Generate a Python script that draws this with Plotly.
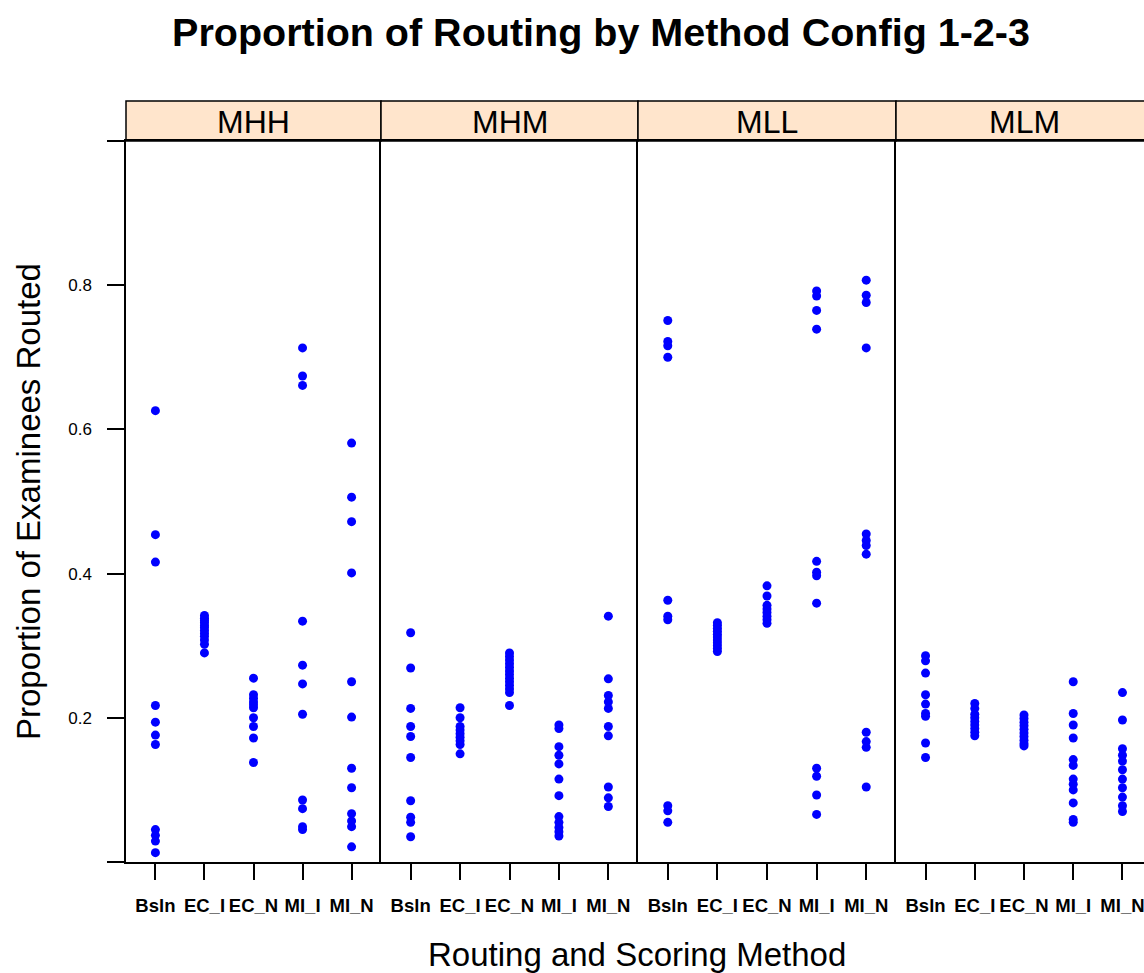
import plotly.graph_objects as go

# Routing / scoring methods shown on every panel
methods = ["Bsln", "EC_I", "EC_N", "MI_I", "MI_N"]
configs = ["MHH", "MHM", "MLL", "MLM"]

# Proportion of examinees routed, one list per method, per configuration
mhh = {
    "Bsln": [0.626, 0.454, 0.416, 0.217, 0.194, 0.176, 0.163, 0.045, 0.037, 0.029, 0.013],
    "EC_I": [0.342, 0.338, 0.335, 0.332, 0.328, 0.325, 0.321, 0.317, 0.313, 0.308, 0.302, 0.290],
    "EC_N": [0.255, 0.232, 0.227, 0.222, 0.218, 0.214, 0.200, 0.188, 0.172, 0.138],
    "MI_I": [0.713, 0.674, 0.661, 0.334, 0.273, 0.247, 0.205, 0.086, 0.074, 0.049, 0.045],
    "MI_N": [0.581, 0.506, 0.472, 0.401, 0.250, 0.201, 0.130, 0.103, 0.067, 0.057, 0.049, 0.021],
}
mhm = {
    "Bsln": [0.318, 0.269, 0.213, 0.188, 0.174, 0.145, 0.085, 0.062, 0.055, 0.035],
    "EC_I": [0.214, 0.200, 0.188, 0.183, 0.178, 0.173, 0.168, 0.163, 0.150],
    "EC_N": [0.290, 0.285, 0.280, 0.275, 0.270, 0.265, 0.260, 0.255, 0.250, 0.245, 0.240, 0.235, 0.217],
    "MI_I": [0.190, 0.185, 0.160, 0.148, 0.136, 0.115, 0.092, 0.063, 0.055, 0.048, 0.042, 0.036],
    "MI_N": [0.341, 0.254, 0.231, 0.222, 0.213, 0.188, 0.175, 0.104, 0.089, 0.077],
}
mll = {
    "Bsln": [0.751, 0.722, 0.716, 0.700, 0.363, 0.341, 0.336, 0.078, 0.071, 0.055],
    "EC_I": [0.332, 0.328, 0.324, 0.320, 0.316, 0.312, 0.308, 0.304, 0.300, 0.296, 0.292],
    "EC_N": [0.383, 0.369, 0.356, 0.351, 0.346, 0.341, 0.336, 0.331],
    "MI_I": [0.792, 0.785, 0.765, 0.739, 0.417, 0.402, 0.397, 0.359, 0.130, 0.119, 0.093, 0.066],
    "MI_N": [0.807, 0.786, 0.776, 0.713, 0.455, 0.446, 0.439, 0.427, 0.180, 0.167, 0.159, 0.104],
}
mlm = {
    "Bsln": [0.286, 0.279, 0.262, 0.232, 0.219, 0.206, 0.202, 0.165, 0.145],
    "EC_I": [0.220, 0.213, 0.205, 0.200, 0.195, 0.190, 0.185, 0.180, 0.175],
    "EC_N": [0.204, 0.199, 0.194, 0.189, 0.184, 0.179, 0.174, 0.169, 0.164, 0.161],
    "MI_I": [0.250, 0.206, 0.190, 0.172, 0.142, 0.134, 0.115, 0.108, 0.100, 0.082, 0.059, 0.055],
    "MI_N": [0.235, 0.197, 0.157, 0.148, 0.140, 0.128, 0.115, 0.103, 0.090, 0.078, 0.070],
}
panels = [mhh, mhm, mll, mlm]

y_ticks = [0.0, 0.2, 0.4, 0.6, 0.8, 1.0]
y_tick_text = ["", "0.2", "0.4", "0.6", "0.8", ""]

W, H = 1144, 973
FONT = "Liberation Sans, Arial, sans-serif"

# panel edges in pixels (last panel runs past the right edge of the page)
edges = [126, 381, 638, 896, 1152]
plot_top, plot_bottom, strip_top = 141, 862, 101

def px_x(p):
    return p / W

def px_y(p):
    return 1 - p / H

fig = go.Figure()
layout = dict(
    width=W, height=H,
    margin=dict(l=0, r=0, t=0, b=0),
    paper_bgcolor="white", plot_bgcolor="white",
    showlegend=False,
    font=dict(family=FONT, color="black"),
    title=dict(
        text="Proportion of Routing by Method Config 1-2-3",
        x=601 / W, xanchor="center", xref="paper",
        y=1 - 32 / H, yanchor="middle", yref="container",
        font=dict(family=FONT, size=39.5, color="black", weight="bold"),
    ),
)

shapes, annotations = [], []
for i, (cfg, data) in enumerate(zip(configs, panels)):
    n = "" if i == 0 else str(i + 1)
    xs, ys = [], []
    for m in methods:
        xs += [m] * len(data[m])
        ys += data[m]
    fig.add_trace(go.Scatter(
        x=xs, y=ys, mode="markers",
        marker=dict(color="#0000FF", size=9, line=dict(width=0)),
        xaxis="x" + n, yaxis="y" + n, hoverinfo="x+y",
    ))

    left, right = edges[i], edges[i + 1]
    vis_right = min(right, W)
    span = 5.2 * (vis_right - left) / (right - left)
    layout["xaxis" + n] = dict(
        domain=[px_x(left), px_x(vis_right)],
        type="category", categoryorder="array", categoryarray=methods,
        range=[-0.6, -0.6 + span],
        showline=True, linecolor="black", linewidth=1.5, mirror=True,
        ticks="outside", ticklen=16, tickwidth=1.5, tickcolor="black",
        tickfont=dict(family=FONT, size=18.5, color="black", weight="bold"),
        ticklabelstandoff=10,
        showgrid=False, zeroline=False, fixedrange=True,
        anchor="y" + n,
    )
    yax = dict(
        domain=[px_y(plot_bottom), px_y(plot_top)],
        range=[0, 1],
        showline=True, linecolor="black", linewidth=1.5, mirror=False,
        showgrid=False, zeroline=False, fixedrange=True,
        anchor="x" + n,
    )
    if i == 0:
        yax.update(
            tickmode="array", tickvals=y_ticks, ticktext=y_tick_text,
            ticks="outside", ticklen=17, tickwidth=1.5, tickcolor="black",
            tickfont=dict(family=FONT, size=17, color="black"),
            ticklabelstandoff=12,
        )
    else:
        yax.update(showticklabels=False, ticks="")
    layout["yaxis" + n] = yax

    # strip above each panel
    shapes.append(dict(
        type="rect", xref="paper", yref="paper",
        x0=px_x(left), x1=px_x(right), y0=px_y(plot_top), y1=px_y(strip_top),
        fillcolor="#FFE5CC", line=dict(color="black", width=1.5), layer="below",
    ))
    annotations.append(dict(
        text=cfg, xref="paper", yref="paper",
        x=px_x((left + right) / 2), y=px_y((plot_top + strip_top) / 2 + 1),
        xanchor="center", yanchor="middle", showarrow=False,
        font=dict(family=FONT, size=32, color="black"),
    ))

annotations.append(dict(
    text="Routing and Scoring Method", xref="paper", yref="paper",
    x=px_x(637), y=px_y(954), xanchor="center", yanchor="middle",
    showarrow=False, font=dict(family=FONT, size=33, color="black"),
))
annotations.append(dict(
    text="Proportion of Examinees Routed", xref="paper", yref="paper",
    x=px_x(28), y=px_y(502), xanchor="center", yanchor="middle",
    textangle=-90, showarrow=False, font=dict(family=FONT, size=33, color="black"),
))

layout["shapes"] = shapes
layout["annotations"] = annotations
fig.update_layout(**layout)
fig.write_html("out.html")
